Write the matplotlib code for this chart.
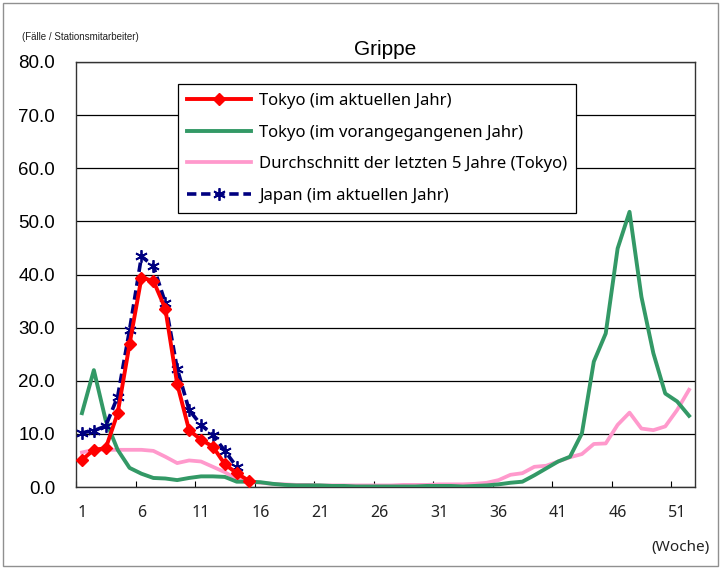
import matplotlib
matplotlib.use("Agg")
import matplotlib.pyplot as plt
from matplotlib.patches import Rectangle
import numpy as np

plt.rcParams['font.family'] = ['Noto Sans', 'DejaVu Sans']

weeks = list(range(1, 53))

tokyo_current = [5.1, 7.0, 7.3, 13.9, 26.9, 39.4, 38.8, 33.6, 19.4, 10.7,
                 8.9, 7.6, 4.3, 2.6, 1.2]

japan_current = [10.2, 10.6, 11.5, 17.0, 29.6, 43.4, 41.6, 34.7, 22.3, 14.5,
                 11.7, 9.8, 6.8, 3.8]

tokyo_previous = [13.9, 22.0, 12.5, 7.0, 3.6, 2.5, 1.7, 1.6, 1.3, 1.7,
                  2.0, 2.0, 1.9, 1.0, 1.0, 0.9, 0.6, 0.4, 0.3, 0.3,
                  0.3, 0.2, 0.2, 0.1, 0.1, 0.1, 0.1, 0.1, 0.1, 0.2,
                  0.2, 0.2, 0.1, 0.2, 0.3, 0.5, 0.8, 1.0, 2.2, 3.5,
                  4.8, 5.7, 10.1, 23.6, 28.9, 44.9, 51.8, 35.8, 25.2, 17.6,
                  16.1, 13.4]

avg_5y = [6.5, 7.0, 7.0, 7.0, 7.0, 7.0, 6.8, 5.7, 4.5, 5.0,
          4.8, 3.8, 2.8, 1.5, 1.0, 0.8, 0.6, 0.5, 0.4, 0.4,
          0.3, 0.3, 0.3, 0.3, 0.3, 0.3, 0.3, 0.4, 0.4, 0.4,
          0.5, 0.5, 0.5, 0.6, 0.8, 1.3, 2.3, 2.6, 3.8, 4.0,
          4.8, 5.6, 6.2, 8.1, 8.2, 11.7, 14.0, 11.0, 10.7, 11.4,
          14.5, 18.3]

xtick_labels = [1, 6, 11, 16, 21, 26, 31, 36, 41, 46, 51]
ytick_values = [0, 10, 20, 30, 40, 50, 60, 70, 80]

fig = plt.figure(figsize=(7.21, 5.69), dpi=100)
ax = fig.add_axes([76/721, 1-487/569, (695-76)/721, (487-62)/569])

fig.patches.append(Rectangle((3/721, 3/569), 715/721, 563/569, transform=fig.transFigure,
                             fill=False, edgecolor='#909090', linewidth=1))

ax.plot(weeks[:len(avg_5y)], avg_5y, color='#ff99cc', lw=2.7, zorder=2,
        label='Durchschnitt der letzten 5 Jahre (Tokyo)')
ax.plot(weeks[:len(tokyo_previous)], tokyo_previous, color='#339966', lw=2.8, zorder=3,
        label='Tokyo (im vorangegangenen Jahr)')
ax.plot(weeks[:len(japan_current)], japan_current, color='#000080', lw=2.6, ls=(0, (2.6, 1.3)),
        marker=(6, 2, 0), ms=9, mew=1.3, zorder=4, label='Japan (im aktuellen Jahr)')
ax.plot(weeks[:len(tokyo_current)], tokyo_current, color='#ff0000', lw=2.8,
        marker='D', ms=6.5, zorder=5, label='Tokyo (im aktuellen Jahr)')

ax.set_xlim(0.5, 52.5)
ax.set_ylim(0, 80)
ax.set_xticks(xtick_labels)
ax.set_xticklabels([str(v) for v in xtick_labels], fontsize=11.5, color='#222222')
ax.set_xticks(np.arange(0.5, 53, 5), minor=True)
ax.tick_params(axis='x', which='major', length=0, pad=13)
ax.tick_params(axis='x', which='minor', direction='in', length=4, width=0.8)
ax.set_yticks(ytick_values)
ax.set_yticklabels([f"{v:.1f}" for v in ytick_values], fontsize=13.5,
                   family=['Liberation Sans', 'DejaVu Sans'])
ax.tick_params(axis='y', length=0, pad=15)
ax.grid(axis='y', color='black', lw=0.9)
ax.set_axisbelow(True)
for s in ax.spines.values():
    s.set_color('#333333')
    s.set_linewidth(1)

ax.set_title('Grippe', fontsize=15, pad=5, family=['Liberation Sans', 'DejaVu Sans'])
fig.text(22/721, 1-37/569, '(Fälle / Stationsmitarbeiter)', fontsize=7, ha='left', va='center',
         family=['Liberation Sans', 'DejaVu Sans'], color='#222222')
fig.text(681/721, 1-547/569, '(Woche)', fontsize=11, ha='center', va='center', color='#222222')

h, l = ax.get_legend_handles_labels()
order = [3, 1, 0, 2]
leg = ax.legend([h[i] for i in order], [l[i] for i in order], loc='upper left',
                bbox_to_anchor=(0.165, 0.948), borderaxespad=0, fontsize=12,
                handlelength=3.8, labelspacing=0.93, handletextpad=0.5,
                fancybox=False, framealpha=1, edgecolor='black', borderpad=0.55)
leg.get_frame().set_linewidth(0.9)

fig.savefig('out.png', dpi=100)
